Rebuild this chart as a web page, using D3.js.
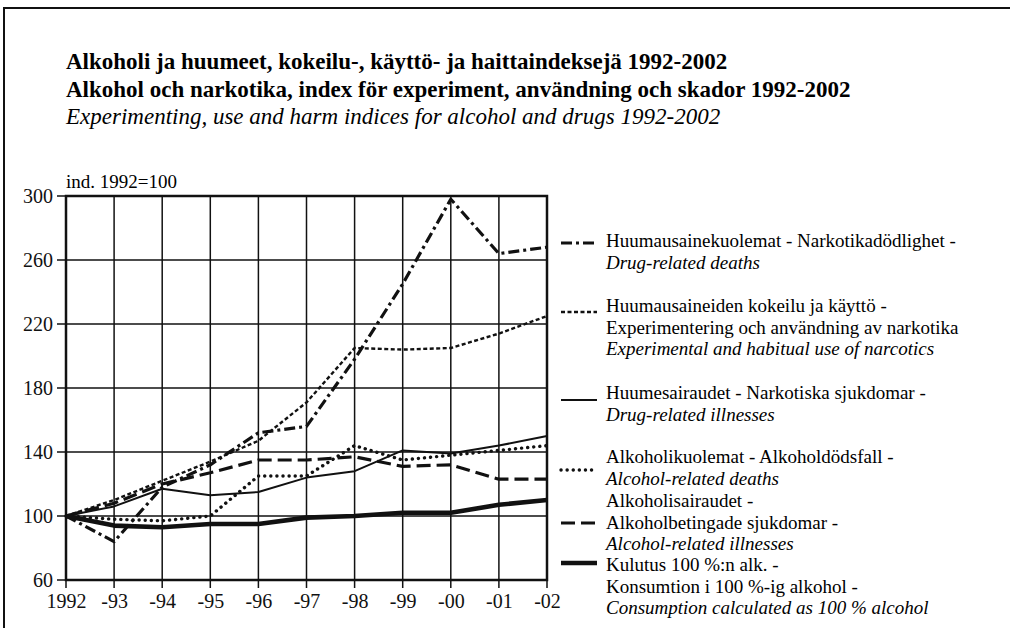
<!DOCTYPE html>
<html>
<head>
<meta charset="utf-8">
<script src="https://cdn.jsdelivr.net/npm/d3@7"></script>
</head>
<body style="margin:0">
<div id="grafica"></div>
<script>
// datos
const years = [1992, 1993, 1994, 1995, 1996, 1997, 1998, 1999, 2000, 2001, 2002]
const yearLabels = ["1992", "-93", "-94", "-95", "-96", "-97", "-98", "-99", "-00", "-01", "-02"]
const yTicks = [60, 100, 140, 180, 220, 260, 300]

const drugDeaths  = [100, 84, 118, 132, 152, 156, 198, 245, 298, 264, 268]
const drugUse     = [100, 110, 122, 134, 147, 171, 205, 204, 205, 214, 225]
const drugIll     = [100, 106, 117, 113, 115, 124, 128, 141, 139, 144, 150]
const alcDeaths   = [100, 98, 97, 100, 125, 125, 144, 135, 138, 141, 144]
const alcIll      = [100, 108, 120, 127, 135, 135, 137, 131, 132, 123, 123]
const consumption = [100, 94, 93, 95, 95, 99, 100, 102, 102, 107, 110]

const titles = [
  "Alkoholi ja huumeet, kokeilu-, käyttö- ja haittaindeksejä 1992-2002",
  "Alkohol och narkotika, index för experiment, användning och skador 1992-2002",
  "Experimenting, use and harm indices for alcohol and drugs 1992-2002"
]
const unitLabel = "ind. 1992=100"

// legend texts: [normal lines..., italic english line]
const legendTexts = [
  ["Huumausainekuolemat - Narkotikadödlighet -", "Drug-related deaths"],
  ["Huumausaineiden kokeilu ja käyttö -", "Experimentering och användning av narkotika", "Experimental and habitual use of narcotics"],
  ["Huumesairaudet - Narkotiska sjukdomar -", "Drug-related illnesses"],
  ["Alkoholikuolemat - Alkoholdödsfall -", "Alcohol-related deaths"],
  ["Alkoholisairaudet -", "Alkoholbetingade sjukdomar -", "Alcohol-related illnesses"],
  ["Kulutus 100 %:n alk. -", "Konsumtion i 100 %-ig alkohol -", "Consumption calculated as 100 % alcohol"]
]

const series = [drugDeaths, drugUse, drugIll, alcDeaths, alcIll, consumption]

// estilos de linea
const styles = [
  { w: 3.2, dash: "11,4,3,4", cap: "butt" },
  { w: 2.4, dash: "4,2.5", cap: "butt" },
  { w: 2, dash: null, cap: "butt" },
  { w: 3.4, dash: "0.1,6", cap: "round" },
  { w: 3.2, dash: "14,6", cap: "butt" },
  { w: 4.6, dash: null, cap: "butt" }
]
// legend layout (first line center y, symbol y)
const legendTop = [241, 306, 393, 457, 501, 565]
const legendSym = [243, 312, 400, 470, 523, 563]

const serif = '"Liberation Serif"'

const svgWidth = 1010
const svgHeight = 628
const margin = { top: 196, left: 66 }
const chartWidth = 481
const chartHeight = 384

const svg = d3.select('#grafica')
  .append('svg')
  .attr('width', svgWidth)
  .attr('height', svgHeight)

// marco
svg.append('path')
  .attr('d', `M4,${svgHeight} V8 H${svgWidth}`)
  .attr('fill', 'none')
  .attr('stroke', '#111')
  .attr('stroke-width', 2)

// titulos
svg.selectAll('.title')
  .data(titles)
  .enter()
  .append('text')
  .attr('class', 'title')
  .attr('x', 66)
  .attr('y', (d, i) => 69 + i * 27.5)
  .style('font-family', serif)
  .style('font-size', '23px')
  .style('font-weight', (d, i) => i < 2 ? 'bold' : 'normal')
  .style('font-style', (d, i) => i == 2 ? 'italic' : 'normal')
  .text(d => d)

svg.append('text')
  .attr('x', 66)
  .attr('y', 188)
  .style('font-family', serif)
  .style('font-size', '19px')
  .text(unitLabel)

const scaleX = d3.scaleLinear()
  .domain([1992, 2002])
  .range([0, chartWidth])

const scaleY = d3.scaleLinear()
  .domain([60, 300])
  .range([chartHeight, 0])

const g = svg.append('g')
  .attr('transform', `translate(${margin.left},${margin.top})`)

// rejilla
g.append('g')
  .selectAll('line')
  .data(years)
  .enter()
  .append('line')
  .attr('x1', d => scaleX(d)).attr('x2', d => scaleX(d))
  .attr('y1', 0).attr('y2', chartHeight + 8)
  .attr('stroke', '#111')
  .attr('stroke-width', 1.5)

g.append('g')
  .selectAll('line')
  .data(yTicks)
  .enter()
  .append('line')
  .attr('x1', -9).attr('x2', chartWidth)
  .attr('y1', d => scaleY(d)).attr('y2', d => scaleY(d))
  .attr('stroke', '#111')
  .attr('stroke-width', 1.5)

g.append('rect')
  .attr('width', chartWidth)
  .attr('height', chartHeight)
  .attr('fill', 'none')
  .attr('stroke', '#111')
  .attr('stroke-width', 2.5)

// ejes texto
const axisY = d3.axisLeft(scaleY).tickValues(yTicks).tickSize(0).tickPadding(13)
const axisX = d3.axisBottom(scaleX).tickValues(years).tickSize(0).tickPadding(14)
  .tickFormat((d, i) => yearLabels[i])

g.append('g')
  .call(axisY)
  .call(a => a.select('.domain').remove())
  .selectAll('text')
  .style('font-family', serif)
  .style('font-size', '20px')
  .attr('fill', '#111')

g.append('g')
  .attr('transform', `translate(0,${chartHeight})`)
  .call(axisX)
  .call(a => a.select('.domain').remove())
  .selectAll('text')
  .style('font-family', serif)
  .style('font-size', '20px')
  .attr('fill', '#111')

// lineas
const line = d3.line()
  .x((d, i) => scaleX(years[i]))
  .y(d => scaleY(d))

g.selectAll('.serie')
  .data(series)
  .enter()
  .append('path')
  .attr('class', 'serie')
  .attr('d', d => line(d))
  .attr('fill', 'none')
  .attr('stroke', '#111')
  .attr('stroke-width', (d, i) => styles[i].w)
  .attr('stroke-dasharray', (d, i) => styles[i].dash)
  .attr('stroke-linecap', (d, i) => styles[i].cap)
  .attr('stroke-linejoin', 'round')

// leyenda
const leg = svg.append('g')

leg.selectAll('.sym')
  .data(series)
  .enter()
  .append('line')
  .attr('class', 'sym')
  .attr('x1', 561).attr('x2', 597)
  .attr('y1', (d, i) => legendSym[i]).attr('y2', (d, i) => legendSym[i])
  .attr('stroke', '#111')
  .attr('stroke-width', (d, i) => styles[i].w)
  .attr('stroke-dasharray', (d, i) => styles[i].dash)
  .attr('stroke-linecap', (d, i) => styles[i].cap)

legendTexts.forEach((lines, i) => {
  leg.selectAll(null)
    .data(lines)
    .enter()
    .append('text')
    .attr('x', 606)
    .attr('y', (d, j) => legendTop[i] + 6 + j * 21.5)
    .style('font-family', serif)
    .style('font-size', '19px')
    .style('font-style', (d, j) => j == lines.length - 1 ? 'italic' : 'normal')
    .text(d => d)
})
</script>
</body>
</html>
